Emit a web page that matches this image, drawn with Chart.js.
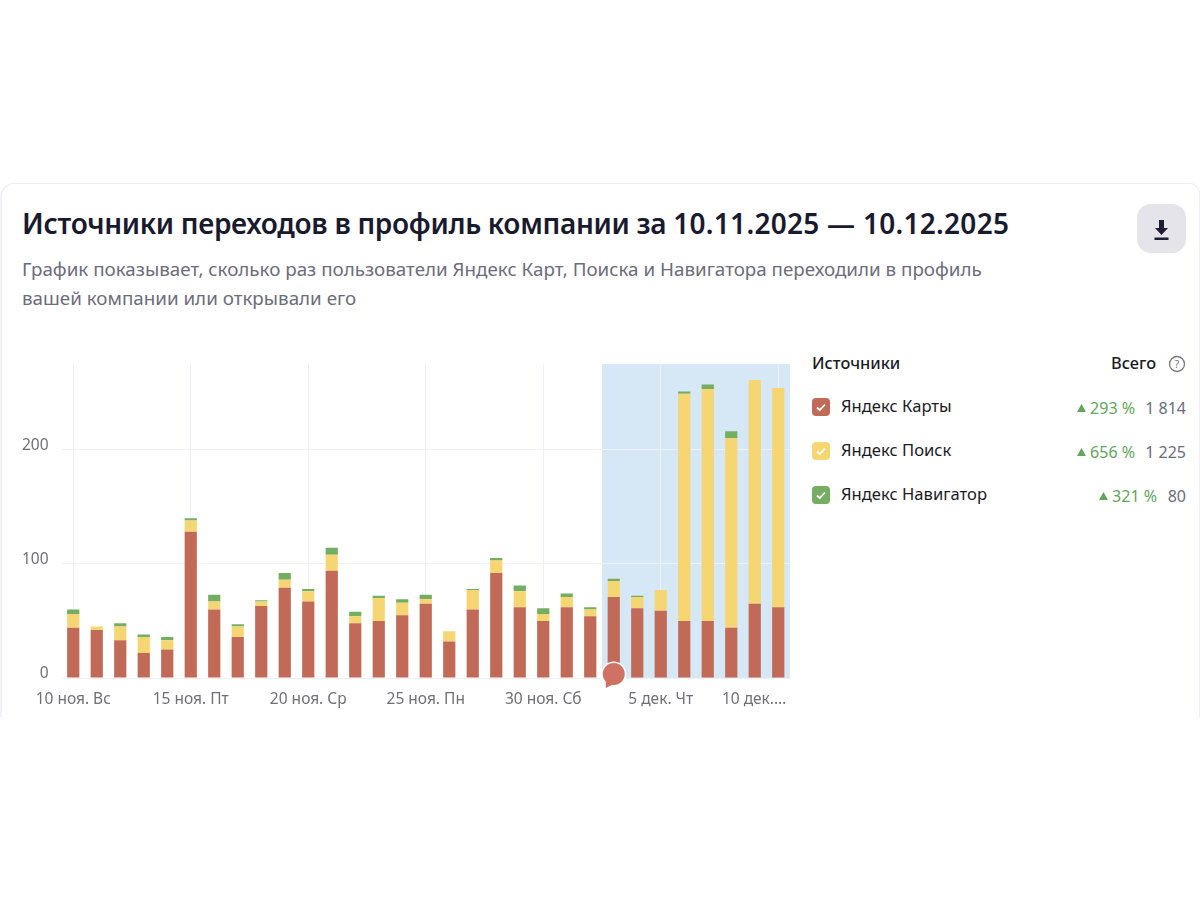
<!DOCTYPE html>
<html lang="ru">
<head>
<meta charset="utf-8">
<title>Источники переходов</title>
<script src="https://cdn.jsdelivr.net/npm/chart.js"></script>
<style>
    html, body { margin: 0; padding: 0; background: #fff; }
    body { width: 1200px; height: 900px; position: relative; overflow: hidden; font-family: "Noto Sans", sans-serif; color: #1b1b26; }
    .card { position: absolute; left: 0; top: 183px; width: 1200px; height: 534px; box-sizing: border-box; border: 1px solid #eeeef4; border-left: 2px solid #f1f1fb; border-bottom: 0; border-radius: 14px 10px 0 0; }
    .abs { position: absolute; white-space: nowrap; }
    .title { left: 22px; top: 203px; font-size: 28px; line-height: 40px; font-weight: 600; letter-spacing: -0.31px; color: #1a1a2e; }
    .title span { letter-spacing: 0.27px; }
    .sub { left: 22px; font-size: 18.8px; line-height: 24px; color: #6c6c7c; }
    .btn { left: 1137px; top: 204px; width: 49px; height: 49px; border-radius: 14px; background: #e4e4ea; }
    .head { top: 352px; font-size: 16.4px; line-height: 22px; font-weight: 500; }
    .check { left: 812px; width: 18px; height: 18px; border-radius: 4px; }
    .name { left: 841px; font-size: 16.6px; line-height: 22px; }
    .pct { font-size: 16px; line-height: 22px; color: #62a65b; }
    .val { font-size: 16px; line-height: 22px; color: #6c6c7c; right: 14px; }
    #chartBox { position: absolute; left: 0; top: 350px; width: 800px; height: 367px; }
</style>
</head>
<body>
<div class="card"></div>
<div class="abs title">Источники переходов в профиль компании за <span>10.11.2025 — 10.12.2025</span></div>
<div class="abs sub" style="top:257px">График показывает, сколько раз пользователи Яндекс Карт, Поиска и Навигатора переходили в профиль</div>
<div class="abs sub" style="top:286px">вашей компании или открывали его</div>
<div class="abs btn">
    <svg width="49" height="49" viewBox="0 0 49 49"><path d="M22 16h5v8h4l-6.500 7-6.500-7h4z M17.500 33.500h14v2.500h-14z" fill="#1d1d33"/></svg>
</div>

<div id="chartBox"><canvas id="sourcesChart"></canvas></div>

<div class="abs head" style="left:812px">Источники</div>
<div class="abs head" style="right:44px">Всего</div>
<svg class="abs" style="left:1168px;top:355px" width="18" height="18" viewBox="0 0 18 18"><circle cx="9" cy="9" r="7.500" fill="none" stroke="#77777f" stroke-width="1.300"/><text x="9" y="13" text-anchor="middle" font-size="11" fill="#77777f" font-family="Noto Sans">?</text></svg>
<div id="legendRows"></div>

<script>
const days = [
    '10 ноя. Вс', '11 ноя. Пн', '12 ноя. Вт', '13 ноя. Ср', '14 ноя. Чт', '15 ноя. Пт', '16 ноя. Сб',
    '17 ноя. Вс', '18 ноя. Пн', '19 ноя. Вт', '20 ноя. Ср', '21 ноя. Чт', '22 ноя. Пт', '23 ноя. Сб',
    '24 ноя. Вс', '25 ноя. Пн', '26 ноя. Вт', '27 ноя. Ср', '28 ноя. Чт', '29 ноя. Пт', '30 ноя. Сб',
    '1 дек. Вс', '2 дек. Пн', '3 дек. Вт', '4 дек. Ср', '5 дек. Чт', '6 дек. Пт', '7 дек. Сб',
    '8 дек. Вс', '9 дек. Пн', '10 дек.…',
];
const mapsValues = [44, 42, 33, 22, 25, 128, 60, 36, 63, 79, 67, 94, 48, 50, 55, 65, 32, 60, 92, 62, 50, 62, 54, 71, 61, 59, 50, 50, 44, 65, 62];
const searchValues = [12, 3, 12, 14, 8, 10, 7, 9, 4, 7, 9, 14, 6, 20, 11, 4, 9, 17, 11, 14, 6, 9, 6, 14, 10, 18, 199, 203, 166, 196, 192];
const naviValues = [4, 0, 3, 2, 3, 2, 6, 2, 1, 6, 2, 6, 4, 2, 3, 4, 0, 1, 2, 5, 5, 3, 2, 2, 1, 0, 2, 4, 6, 0, 0];
const yTicks = [0, 100, 200];
const highlightFrom = 23;

const legendNames = ['Яндекс Карты', 'Яндекс Поиск', 'Яндекс Навигатор'];
const legendPct = ['293 %', '656 %', '321 %'];
const legendTotals = ['1 814', '1 225', '80'];
const legendColors = ['#c26a58', '#f6d672', '#74ae62'];

// legend rows on the right
const rows = document.getElementById('legendRows');
legendNames.forEach((name, i) => {
    const top = 395 + i * 44;
    const pctRight = i === 2 ? 43 : 65;
    rows.innerHTML += `
        <div class="abs check" style="top:${top + 3}px;background:${legendColors[i]}">
            <svg width="18" height="18" viewBox="0 0 18 18"><path d="M5 9.500l2.800 2.500L13 6.500" fill="none" stroke="#fff" stroke-width="1.800"/></svg>
        </div>
        <div class="abs name" style="top:${top}px">${name}</div>
        <svg class="abs" style="right:${pctRight + 49}px;top:${top + 9}px" width="9" height="8" viewBox="0 0 9 8"><path d="M4.500 0L9 8H0z" fill="#62a65b"/></svg>
        <div class="abs pct" style="right:${pctRight}px;top:${top + 2}px">${legendPct[i]}</div>
        <div class="abs val" style="top:${top + 2}px">${legendTotals[i]}</div>`;
});

// blue band behind the last days, drawn from the category scale
const highlightPlugin = {
    id: 'highlight',
    beforeDraw(chart) {
        const { ctx, chartArea, scales } = chart;
        const step = scales.x.getPixelForValue(1) - scales.x.getPixelForValue(0);
        const left = scales.x.getPixelForValue(highlightFrom) - step / 2;
        ctx.save();
        ctx.fillStyle = '#d6e7f5';
        ctx.fillRect(left, chartArea.top, chartArea.right - left, chartArea.bottom - chartArea.top);
        ctx.restore();
    },
};

// comment bubble on the 3 Dec bar
const bubblePlugin = {
    id: 'bubble',
    afterDatasetsDraw(chart) {
        const { ctx, scales } = chart;
        const x = scales.x.getPixelForValue(highlightFrom);
        const y = scales.y.getPixelForValue(0) - 4;
        ctx.save();
        ctx.beginPath();
        ctx.arc(x, y, 12.5, 0, Math.PI * 2);
        ctx.fillStyle = '#fff';
        ctx.fill();
        ctx.beginPath();
        ctx.moveTo(x - 8, y + 5);
        ctx.lineTo(x - 8, y + 14);
        ctx.lineTo(x + 2, y + 9);
        ctx.closePath();
        ctx.fillStyle = '#cf7263';
        ctx.fill();
        ctx.beginPath();
        ctx.arc(x, y, 11, 0, Math.PI * 2);
        ctx.fill();
        ctx.restore();
    },
};

new Chart(document.getElementById('sourcesChart'), {
    type: 'bar',
    data: {
        labels: days,
        datasets: [
            { label: legendNames[0], data: mapsValues, backgroundColor: legendColors[0], barPercentage: 0.52, categoryPercentage: 1 },
            { label: legendNames[1], data: searchValues, backgroundColor: legendColors[1], barPercentage: 0.52, categoryPercentage: 1 },
            { label: legendNames[2], data: naviValues, backgroundColor: legendColors[2], barPercentage: 0.52, categoryPercentage: 1 },
        ],
    },
    options: {
        responsive: true,
        maintainAspectRatio: false,
        animation: false,
        layout: { padding: { left: 0, right: 10, top: 14, bottom: 0 } },
        plugins: { legend: { display: false }, tooltip: { enabled: false } },
        scales: {
            x: {
                stacked: true,
                offset: true,
                border: { display: false },
                grid: {
                    offset: false,
                    drawTicks: false,
                    color: (ctx) => (ctx.index % 5 === 0 ? '#f0f0f7' : 'transparent'),
                },
                ticks: {
                    autoSkip: false,
                    maxRotation: 0,
                    padding: 12,
                    color: '#6f6f75',
                    font: { family: 'Noto Sans', size: 15.5 },
                    callback(value, index) {
                        if (index % 5 !== 0) return '';
                        // last label sits left of its tick so it stays inside the plot
                        return index === days.length - 1 ? days[index] + '\u00a0'.repeat(12) : days[index];
                    },
                },
                afterFit(axis) {
                    axis.height = 39;
                    axis.paddingLeft = 0;
                    axis.paddingRight = 0;
                },
            },
            y: {
                stacked: true,
                min: 0,
                max: 275,
                afterBuildTicks(axis) {
                    axis.ticks = yTicks.map((value) => ({ value }));
                },
                border: { display: false },
                grid: { drawTicks: false, color: '#f0f0f7' },
                ticks: {
                    includeBounds: false,
                    padding: 13,
                    labelOffset: -4,
                    color: '#6f6f75',
                    font: { family: 'Noto Sans', size: 15.5 },
                },
                afterFit(axis) {
                    axis.width = 61.5;
                    axis.paddingTop = 0;
                    axis.paddingBottom = 0;
                },
            },
        },
    },
    plugins: [highlightPlugin, bubblePlugin],
});
</script>
</body>
</html>
